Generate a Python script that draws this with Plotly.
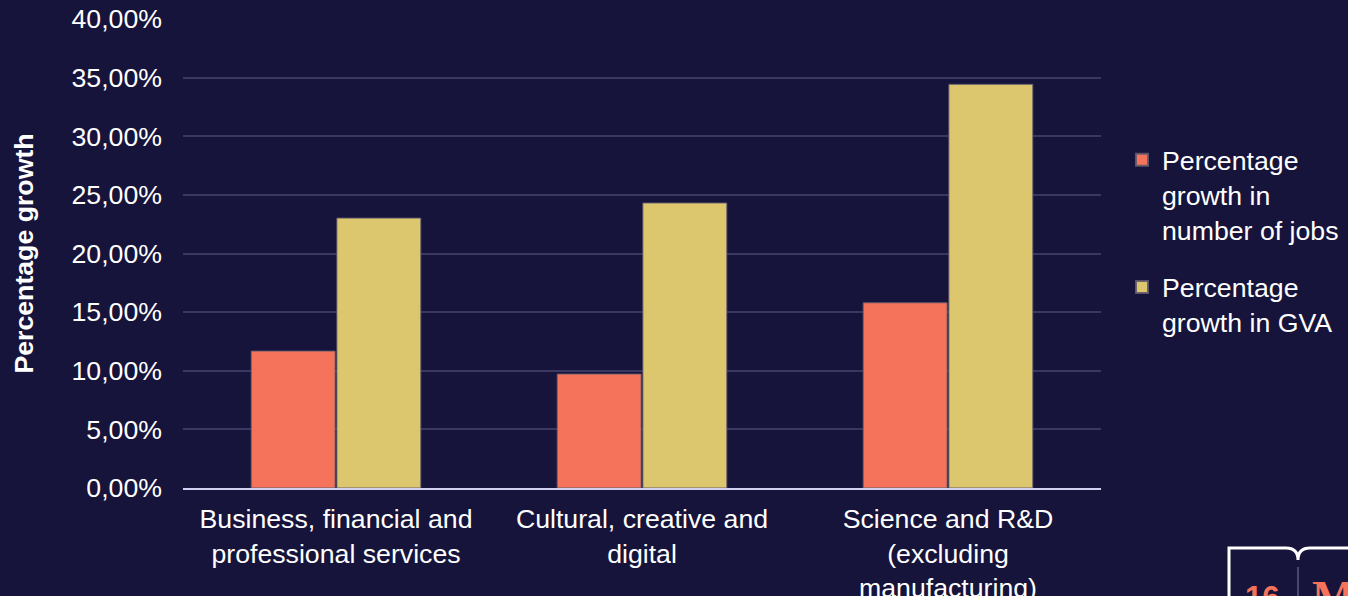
import plotly.graph_objects as go

categories = ["Business, financial and<br>professional services",
              "Cultural, creative and<br>digital",
              "Science and R&D<br>(excluding<br>manufacturing)"]
jobs_growth = [0.1168, 0.0972, 0.1580]
gva_growth = [0.2302, 0.2431, 0.3443]
series_names = ["Percentage<br>growth in<br>number of jobs", "Percentage<br>growth in GVA"]
tick_vals = [0, 0.05, 0.10, 0.15, 0.20, 0.25, 0.30, 0.35, 0.40]
tick_text = ["0,00%", "5,00%", "10,00%", "15,00%", "20,00%", "25,00%", "30,00%", "35,00%", "40,00%"]

BG = "#16143a"
SALMON = "#f4735a"
GOLD = "#dcc66e"
FONT = "Liberation Sans, Arial, sans-serif"
FS = 26.7

W, H = 1348, 596
L, R, T, B = 183, 247, 19, 108

def px(x):
    return (x - L) / (W - L - R)

def py(y):
    return 1 - (y - T) / (H - T - B)

fig = go.Figure()
fig.add_trace(go.Bar(x=categories, y=jobs_growth, name=series_names[0], legendgroup="a",
                     marker=dict(color=SALMON, line=dict(color="rgba(95,90,110,0.9)", width=1))))
fig.add_trace(go.Bar(x=categories, y=gva_growth, name=series_names[1], legendgroup="b",
                     marker=dict(color=GOLD, line=dict(color="rgba(95,90,110,0.9)", width=1))))

fig.update_layout(
    width=W, height=H,
    margin=dict(l=L, r=R, t=T, b=B, autoexpand=False),
    paper_bgcolor=BG, plot_bgcolor=BG,
    font=dict(family=FONT, size=FS, color="#ffffff"),
    barmode="group", bargap=0.44, bargroupgap=0.02,
    showlegend=True,
    legend=dict(x=px(1122), y=py(136), xanchor="left", yanchor="top", valign="top",
                bgcolor="rgba(0,0,0,0)", font=dict(size=FS, color="#ffffff"),
                tracegroupgap=20, itemsizing="constant"),
    xaxis=dict(showgrid=False, showline=True, linecolor="#d2cff0", linewidth=2,
               ticks="", ticklabelstandoff=6, tickfont=dict(size=FS, color="#ffffff"),
               automargin=False),
    yaxis=dict(range=[0, 0.40], tickvals=tick_vals, ticktext=tick_text,
               showgrid=True, gridcolor="#3a3860", gridwidth=2, zeroline=False,
               showline=False, ticks="", ticklabelstandoff=20,
               tickfont=dict(size=FS, color="#ffffff"), automargin=False,
               title=dict(text="<b>Percentage growth</b>", font=dict(size=FS, color="#ffffff"),
                          standoff=30)),
)

# page-number / logo decoration in the bottom-right corner
fig.add_shape(type="path", xref="paper", yref="paper",
              path=(f"M {px(1229)},{py(620)} L {px(1229)},{py(548)} L {px(1286)},{py(548)} "
                    f"Q {px(1298)},{py(548)} {px(1298)},{py(560)} "
                    f"Q {px(1298)},{py(548)} {px(1310)},{py(548)} L {px(1400)},{py(548)}"),
              line=dict(color="#ffffff", width=3))
fig.add_shape(type="line", xref="paper", yref="paper",
              x0=px(1298), x1=px(1298), y0=py(567), y1=py(620),
              line=dict(color="#4a4670", width=2))
fig.add_annotation(xref="paper", yref="paper", x=px(1262), y=py(597), text="<b>16</b>",
                   showarrow=False, xanchor="center", yanchor="middle",
                   font=dict(size=31, color=SALMON, family=FONT))
fig.add_annotation(xref="paper", yref="paper", x=px(1310), y=py(597), text="<b>M</b>",
                   showarrow=False, xanchor="left", yanchor="middle",
                   font=dict(size=46, color=SALMON, family="Liberation Serif, serif"))

fig.write_html("out.html", config={"displayModeBar": False},
               post_script="document.body.style.margin='0';document.body.style.overflow='hidden';")
